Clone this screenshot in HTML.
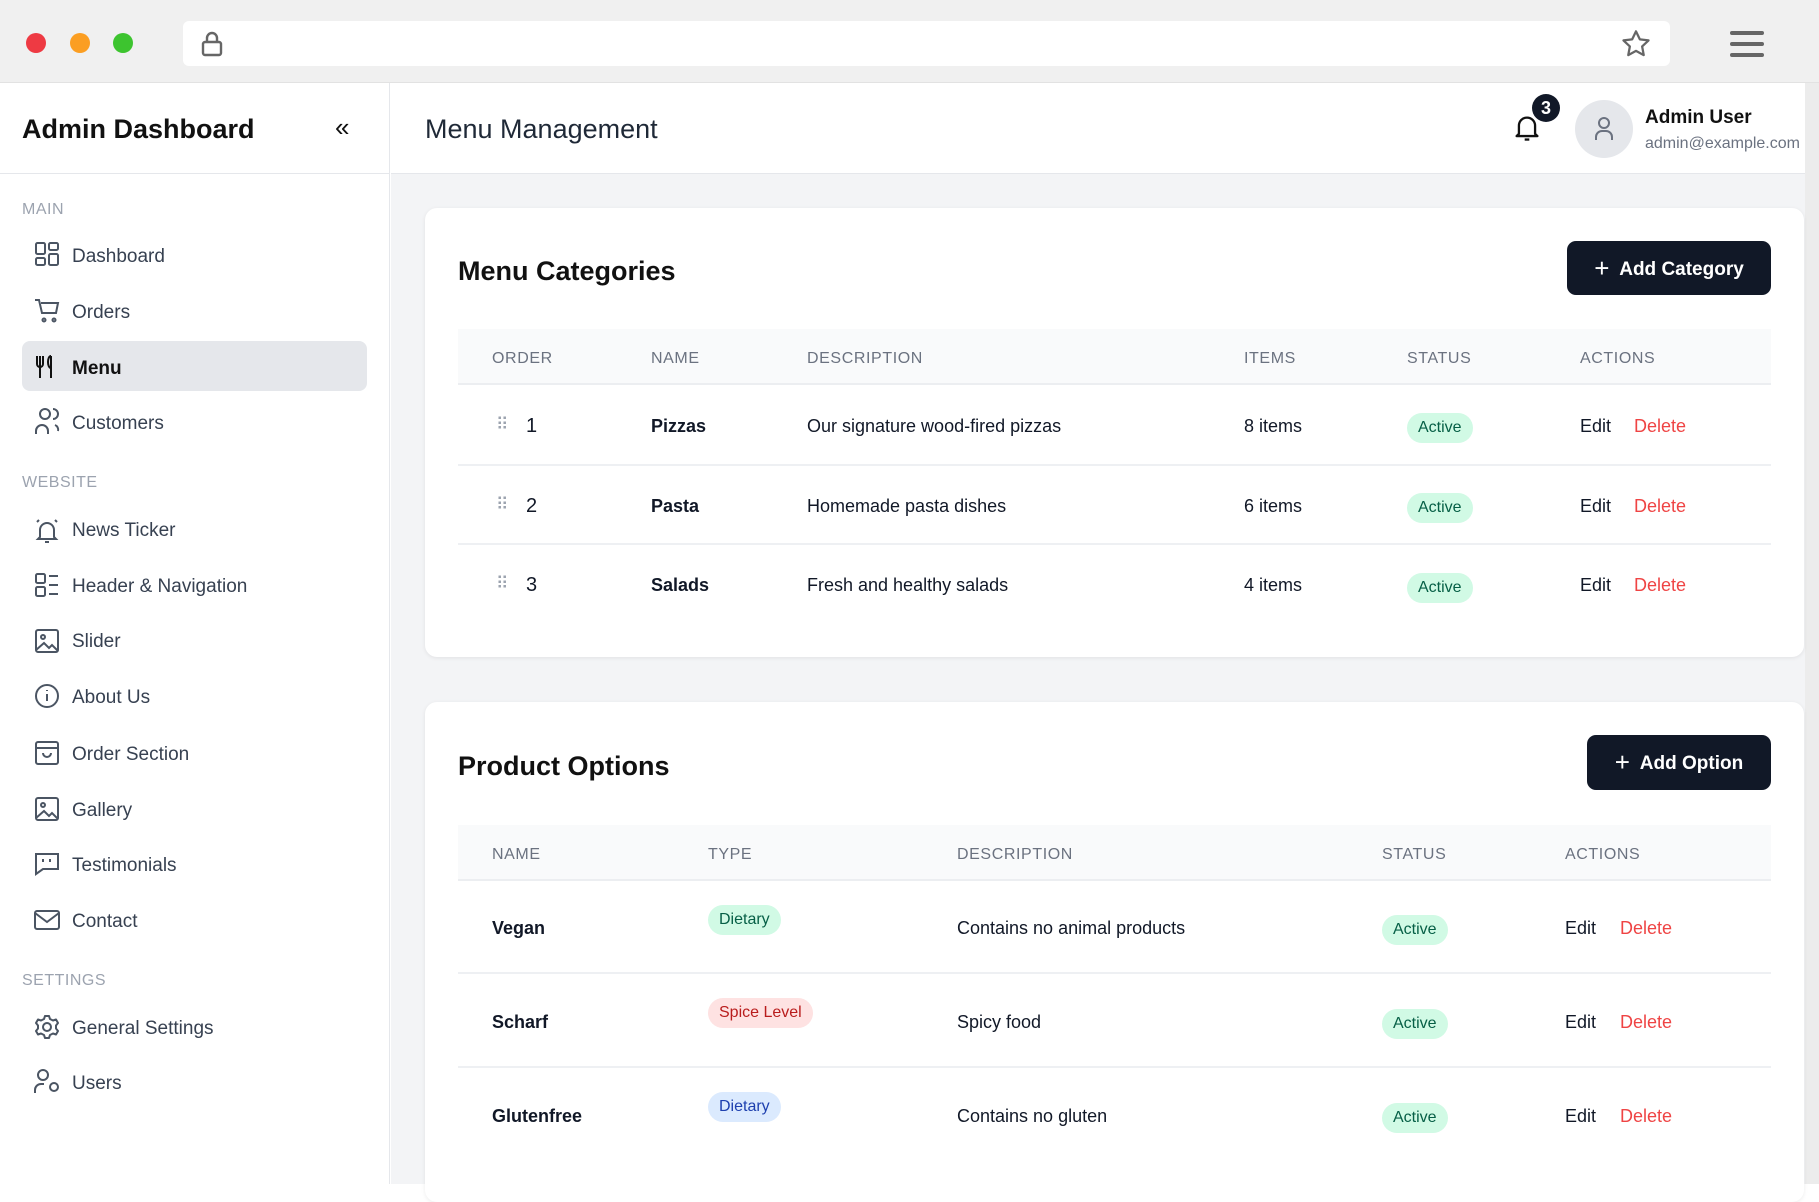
<!DOCTYPE html>
<html><head><meta charset="utf-8"><style>
*{margin:0;padding:0;box-sizing:border-box}
body{width:1819px;height:1184px;overflow:hidden;background:#fff;font-family:"Liberation Sans",sans-serif;position:relative;color:#111827}
.a{position:absolute;white-space:nowrap}
.chrome{left:0;top:0;width:1819px;height:83px;background:#f0f0f0;border-bottom:1px solid #e2e2e2}
.dot{width:20px;height:20px;border-radius:50%;top:33px}
.side{left:0;top:83px;width:390px;height:1101px;background:#fff;border-right:1px solid #e5e7eb}
.main{left:391px;top:174px;width:1414px;height:1010px;background:#f3f4f6}
.hdr{left:391px;top:83px;width:1414px;height:91px;background:#fff;border-bottom:1px solid #e5e7eb}
.sec{left:22px;font-size:16px;color:#9ca3af;letter-spacing:.5px}
.nav{left:72px;font-size:19px;color:#374151;height:30px;line-height:30px}
.card{background:#fff;border-radius:12px;box-shadow:0 1px 4px rgba(0,0,0,.08)}
.th{font-size:16px;color:#6b7280;letter-spacing:.6px;height:20px;line-height:20px}
.td{font-size:18px;color:#111827;height:24px;line-height:24px}
.b{font-weight:bold}
.badge{border-radius:15px;font-size:16px;height:30px;line-height:30px;padding:0 11px}
.act{background:#d1fae5;color:#065f46}
.line{height:2px;background:#eef0f3}
.btn{background:#111827;color:#fff;border-radius:9px;font-size:19px;font-weight:bold;text-align:center}
.red{color:#ef4444}
</style></head><body>
<div class="a chrome"></div>
<div class="a dot" style="left:26px;background:#ee3a43"></div>
<div class="a dot" style="left:70px;background:#fb9e22"></div>
<div class="a dot" style="left:113px;background:#3dc42f"></div>
<div class="a" style="left:183px;top:21px;width:1487px;height:45px;background:#fff;border-radius:6px"></div>
<svg class="a" style="left:200px;top:30px" width="24" height="28" viewBox="0 0 24 28"><rect x="3" y="12" width="18" height="13" rx="2" fill="none" stroke="#666" stroke-width="2.4"/><path d="M7 12V8a5 5 0 0110 0v4" fill="none" stroke="#666" stroke-width="2.4"/></svg>
<svg class="a" style="left:1620px;top:28px" width="32" height="32" viewBox="0 0 24 24"><path d="M12 2.5l2.9 6 6.5.8-4.8 4.5 1.2 6.5L12 17.2 6.2 20.3l1.2-6.5L2.6 9.3l6.5-.8z" fill="none" stroke="#666" stroke-width="1.7" stroke-linejoin="round"/></svg>
<div class="a" style="left:1730px;top:31px;width:34px;height:4px;background:#666;border-radius:2px"></div>
<div class="a" style="left:1730px;top:42px;width:34px;height:4px;background:#666;border-radius:2px"></div>
<div class="a" style="left:1730px;top:53px;width:34px;height:4px;background:#666;border-radius:2px"></div>
<div class="a" style="left:1805px;top:83px;width:14px;height:1101px;background:#ececec"></div>

<div class="a side"></div>
<div class="a" style="left:0;top:173px;width:390px;height:1px;background:#e5e7eb"></div>
<div class="a hdr"></div>
<div class="a main"></div>

<div class="a b" style="left:22px;top:114px;font-size:27px;color:#111">Admin Dashboard</div>
<div class="a" style="left:335px;top:112px;font-size:26px;color:#111">«</div>
<div class="a" style="left:425px;top:114px;font-size:27px;color:#1f2937">Menu Management</div>
<svg class="a" style="left:1513px;top:113px" width="28" height="30" viewBox="0 0 24 26"><path d="M5 18V11a7 7 0 0114 0v7l2 2H3z" fill="none" stroke="#111" stroke-width="2" stroke-linejoin="round"/><path d="M10 23h4" stroke="#111" stroke-width="2"/></svg>
<div class="a b" style="left:1532px;top:94px;width:28px;height:28px;border-radius:50%;background:#111827;color:#fff;font-size:18px;text-align:center;line-height:28px">3</div>
<div class="a" style="left:1575px;top:100px;width:58px;height:58px;border-radius:50%;background:#e5e7eb"></div>
<svg class="a" style="left:1592px;top:115px" width="24" height="28" viewBox="0 0 24 28"><circle cx="12" cy="8" r="5" fill="none" stroke="#6b7280" stroke-width="2"/><path d="M4 25v-3a6 6 0 016-6h4a6 6 0 016 6v3" fill="none" stroke="#6b7280" stroke-width="2"/></svg>
<div class="a b" style="left:1645px;top:107px;font-size:19px;color:#111">Admin User</div>
<div class="a" style="left:1645px;top:135px;font-size:16px;color:#6b7280">admin@example.com</div>

<!-- sidebar -->
<div class="a sec" style="top:201px">MAIN</div>
<div class="a" style="left:22px;top:341px;width:345px;height:50px;background:#e5e7eb;border-radius:8px"></div>
<div class="a nav" style="top:242px">Dashboard</div>
<div class="a nav" style="top:298px">Orders</div>
<div class="a nav b" style="top:354px;color:#111">Menu</div>
<div class="a nav" style="top:409px">Customers</div>
<div class="a sec" style="top:474px">WEBSITE</div>
<div class="a nav" style="top:516px">News Ticker</div>
<div class="a nav" style="top:572px">Header &amp; Navigation</div>
<div class="a nav" style="top:627px">Slider</div>
<div class="a nav" style="top:683px">About Us</div>
<div class="a nav" style="top:740px">Order Section</div>
<div class="a nav" style="top:796px">Gallery</div>
<div class="a nav" style="top:851px">Testimonials</div>
<div class="a nav" style="top:907px">Contact</div>
<div class="a sec" style="top:972px">SETTINGS</div>
<div class="a nav" style="top:1014px">General Settings</div>
<div class="a nav" style="top:1069px">Users</div>

<svg class="a" style="left:34px;top:0" width="30" height="1184" viewBox="0 0 30 1184" fill="none" stroke="#4b5563" stroke-width="2">
<rect x="2" y="243" width="9" height="11" rx="1.5"/><rect x="15" y="243" width="9" height="7" rx="1.5"/><rect x="2" y="258" width="9" height="7" rx="1.5"/><rect x="15" y="254" width="9" height="11" rx="1.5"/>
<path d="M1 300h4l3 13h14l2-10H7"/><circle cx="10" cy="320" r="1.5"/><circle cx="20" cy="320" r="1.5"/>
<path d="M3 356v8a3 3 0 006 0v-8M6 356v22M17 356c-4 0-4 12 0 12v10M17 356v22" stroke="#111"/>
<circle cx="11" cy="414" r="5"/><path d="M2 434v-3a6 6 0 0112 0v3M19 409a5 5 0 010 10M21 425a5 5 0 013 6"/>
<path d="M6 537v-7a7 7 0 0114 0v7l2 2H4zM11 542h4M3 522l2-2M23 522l-2-2"/>
<rect x="2" y="574" width="9" height="9" rx="1.5"/><rect x="2" y="587" width="9" height="9" rx="1.5"/><path d="M15 576h9M15 585h9M15 594h9"/>
<rect x="2" y="630" width="22" height="22" rx="2"/><circle cx="9" cy="637" r="2"/><path d="M2 650l8-7 5 5 3-3 6 6"/>
<circle cx="13" cy="696" r="11"/><path d="M13 694v7M13 690v1"/>
<rect x="2" y="742" width="22" height="22" rx="2"/><path d="M2 748h22M9 753a4 4 0 008 0"/>
<rect x="2" y="798" width="22" height="22" rx="2"/><circle cx="9" cy="805" r="2"/><path d="M2 818l8-7 5 5 3-3 6 6"/>
<path d="M2 854h22v15H9l-7 5z"/><path d="M9 859v3M16 859v3"/>
<rect x="1" y="911" width="24" height="18" rx="2"/><path d="M1 913l12 9 12-9"/>
<circle cx="13" cy="1027" r="4"/>
<path d="M11 1016h4l1 3 3 1.5 3-1 2 3.5-2 2.5v3l2 2.5-2 3.5-3-1-3 1.5-1 3h-4l-1-3-3-1.5-3 1-2-3.5 2-2.5v-3l-2-2.5 2-3.5 3 1 3-1.5z" stroke-linejoin="round"/>
<circle cx="9" cy="1075" r="5"/><path d="M1 1093v-3a6 6 0 016-6h3"/><circle cx="20" cy="1087" r="4"/>
</svg>

<!-- card 1 -->
<div class="a card" style="left:425px;top:208px;width:1379px;height:449px"></div>
<div class="a" style="left:458px;top:256px;font-size:27px;font-weight:600;color:#111">Menu Categories</div>
<div class="a btn" style="left:1567px;top:241px;width:204px;height:54px;line-height:54px"><span style="font-weight:normal;font-size:26px;vertical-align:-2px">+</span>&nbsp; Add Category</div>
<div class="a" style="left:458px;top:329px;width:1313px;height:56px;background:#f9fafb;border-bottom:2px solid #eceef1"></div>
<div class="a th" style="left:492px;top:349px">ORDER</div>
<div class="a th" style="left:651px;top:349px">NAME</div>
<div class="a th" style="left:807px;top:349px">DESCRIPTION</div>
<div class="a th" style="left:1244px;top:349px">ITEMS</div>
<div class="a th" style="left:1407px;top:349px">STATUS</div>
<div class="a th" style="left:1580px;top:349px">ACTIONS</div>
<div class="a line" style="left:458px;top:464px;width:1313px"></div>
<div class="a line" style="left:458px;top:543px;width:1313px"></div>

<div class="a td" style="left:496px;top:413px;color:#9ca3af;font-size:17px;letter-spacing:-1px">⠿</div>
<div class="a td" style="left:526px;top:414px;font-size:20px">1</div>
<div class="a td b" style="left:651px;top:414px">Pizzas</div>
<div class="a td" style="left:807px;top:414px">Our signature wood-fired pizzas</div>
<div class="a td" style="left:1244px;top:414px">8 items</div>
<div class="a badge act" style="left:1407px;top:413px">Active</div>
<div class="a td" style="left:1580px;top:414px">Edit</div>
<div class="a td red" style="left:1634px;top:414px">Delete</div>

<div class="a td" style="left:496px;top:493px;color:#9ca3af;font-size:17px;letter-spacing:-1px">⠿</div>
<div class="a td" style="left:526px;top:494px;font-size:20px">2</div>
<div class="a td b" style="left:651px;top:494px">Pasta</div>
<div class="a td" style="left:807px;top:494px">Homemade pasta dishes</div>
<div class="a td" style="left:1244px;top:494px">6 items</div>
<div class="a badge act" style="left:1407px;top:493px">Active</div>
<div class="a td" style="left:1580px;top:494px">Edit</div>
<div class="a td red" style="left:1634px;top:494px">Delete</div>

<div class="a td" style="left:496px;top:572px;color:#9ca3af;font-size:17px;letter-spacing:-1px">⠿</div>
<div class="a td" style="left:526px;top:573px;font-size:20px">3</div>
<div class="a td b" style="left:651px;top:573px">Salads</div>
<div class="a td" style="left:807px;top:573px">Fresh and healthy salads</div>
<div class="a td" style="left:1244px;top:573px">4 items</div>
<div class="a badge act" style="left:1407px;top:573px">Active</div>
<div class="a td" style="left:1580px;top:573px">Edit</div>
<div class="a td red" style="left:1634px;top:573px">Delete</div>

<!-- card 2 -->
<div class="a card" style="left:425px;top:702px;width:1379px;height:500px"></div>
<div class="a" style="left:458px;top:751px;font-size:27px;font-weight:600;color:#111">Product Options</div>
<div class="a btn" style="left:1587px;top:735px;width:184px;height:55px;line-height:55px"><span style="font-weight:normal;font-size:26px;vertical-align:-2px">+</span>&nbsp; Add Option</div>
<div class="a" style="left:458px;top:825px;width:1313px;height:56px;background:#f9fafb;border-bottom:2px solid #eceef1"></div>
<div class="a th" style="left:492px;top:845px">NAME</div>
<div class="a th" style="left:708px;top:845px">TYPE</div>
<div class="a th" style="left:957px;top:845px">DESCRIPTION</div>
<div class="a th" style="left:1382px;top:845px">STATUS</div>
<div class="a th" style="left:1565px;top:845px">ACTIONS</div>
<div class="a line" style="left:458px;top:972px;width:1313px"></div>
<div class="a line" style="left:458px;top:1066px;width:1313px"></div>

<div class="a td b" style="left:492px;top:916px">Vegan</div>
<div class="a badge" style="left:708px;top:905px;background:#d1fae5;color:#065f46">Dietary</div>
<div class="a td" style="left:957px;top:916px">Contains no animal products</div>
<div class="a badge act" style="left:1382px;top:915px">Active</div>
<div class="a td" style="left:1565px;top:916px">Edit</div>
<div class="a td red" style="left:1620px;top:916px">Delete</div>

<div class="a td b" style="left:492px;top:1010px">Scharf</div>
<div class="a badge" style="left:708px;top:998px;background:#fee2e2;color:#b91c1c">Spice Level</div>
<div class="a td" style="left:957px;top:1010px">Spicy food</div>
<div class="a badge act" style="left:1382px;top:1009px">Active</div>
<div class="a td" style="left:1565px;top:1010px">Edit</div>
<div class="a td red" style="left:1620px;top:1010px">Delete</div>

<div class="a td b" style="left:492px;top:1104px">Glutenfree</div>
<div class="a badge" style="left:708px;top:1092px;background:#dbeafe;color:#1e40af">Dietary</div>
<div class="a td" style="left:957px;top:1104px">Contains no gluten</div>
<div class="a badge act" style="left:1382px;top:1103px">Active</div>
<div class="a td" style="left:1565px;top:1104px">Edit</div>
<div class="a td red" style="left:1620px;top:1104px">Delete</div>
</body></html>
